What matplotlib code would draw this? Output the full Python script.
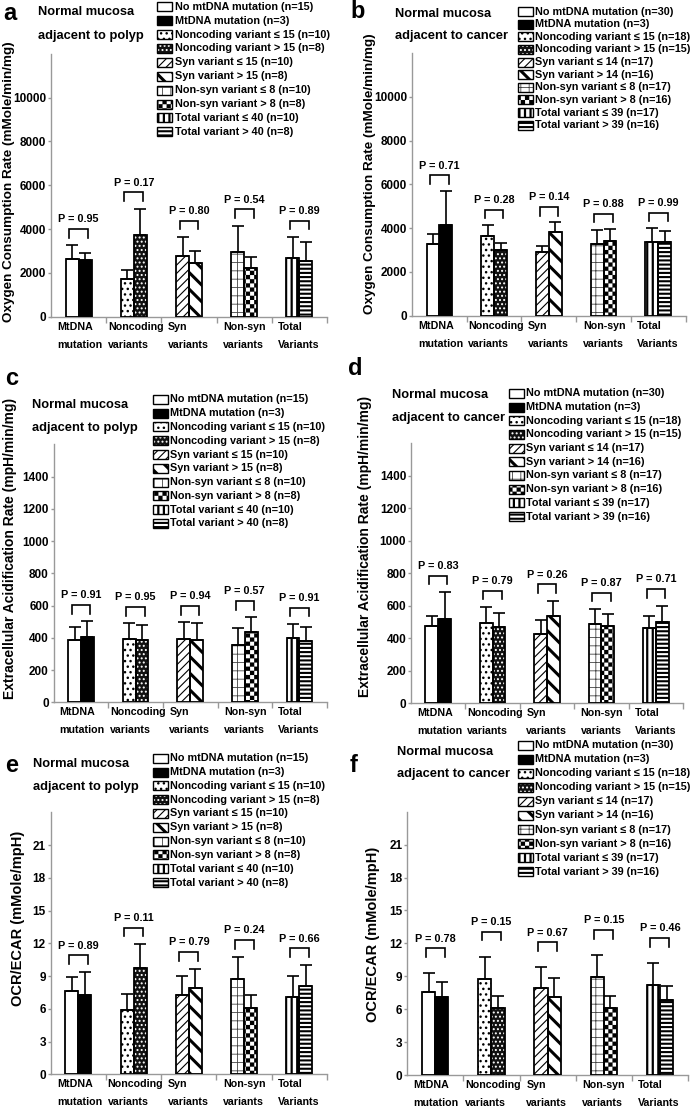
import warnings
import numpy as np
import matplotlib
matplotlib.use("Agg")
import matplotlib.pyplot as plt
from matplotlib import hatch as mhatch
from matplotlib.path import Path
from matplotlib.patches import Rectangle

warnings.filterwarnings("ignore")

plt.rcParams["font.family"] = ["Liberation Sans", "DejaVu Sans"]
plt.rcParams["font.weight"] = "bold"

# ---------------- data ----------------
group_line1 = ["MtDNA", "Noncoding", "Syn", "Non-syn", "Total"]
group_line2 = ["mutation", "variants", "variants", "variants", "Variants"]

legend_polyp = ["No mtDNA mutation (n=15)", "MtDNA mutation (n=3)",
                "Noncoding variant \u2264 15 (n=10)", "Noncoding variant > 15 (n=8)",
                "Syn variant \u2264 15 (n=10)", "Syn variant > 15 (n=8)",
                "Non-syn variant \u2264 8 (n=10)", "Non-syn variant > 8 (n=8)",
                "Total variant \u2264 40 (n=10)", "Total variant > 40 (n=8)"]
legend_cancer = ["No mtDNA mutation (n=30)", "MtDNA mutation (n=3)",
                 "Noncoding variant \u2264 15 (n=18)", "Noncoding variant > 15 (n=15)",
                 "Syn variant \u2264 14 (n=17)", "Syn variant > 14 (n=16)",
                 "Non-syn variant \u2264 8 (n=17)", "Non-syn variant > 8 (n=16)",
                 "Total variant \u2264 39 (n=17)", "Total variant > 39 (n=16)"]

ocr_label = "Oxygen Consumption Rate (mMole/min/mg)"
ecar_label = "Extracellular Acidification Rate (mpH/min/mg)"
ratio_label = "OCR/ECAR (mMole/mpH)"

# bars ordered: [no mut, mut, nc<=, nc>, syn<=, syn>, nonsyn<=, nonsyn>, total<=, total>]
ocr_polyp_mean = [2630, 2580, 1740, 3710, 2750, 2450, 2960, 2200, 2690, 2550]
ocr_polyp_sd = [630, 330, 400, 1220, 890, 540, 1190, 530, 950, 850]
ocr_polyp_p = ["0.95", "0.17", "0.80", "0.54", "0.89"]

ocr_cancer_mean = [3260, 4140, 3640, 3000, 2890, 3810, 3290, 3410, 3350, 3350]
ocr_cancer_sd = [460, 1570, 500, 340, 310, 460, 610, 550, 660, 530]
ocr_cancer_p = ["0.71", "0.28", "0.14", "0.88", "0.99"]

ecar_polyp_mean = [387, 407, 395, 386, 395, 386, 358, 434, 399, 382]
ecar_polyp_sd = [78, 95, 95, 96, 101, 104, 105, 93, 87, 87]
ecar_polyp_p = ["0.91", "0.95", "0.94", "0.57", "0.91"]

ecar_cancer_mean = [478, 521, 496, 468, 429, 537, 490, 476, 461, 502]
ecar_cancer_sd = [61, 162, 95, 90, 82, 93, 88, 74, 74, 99]
ecar_cancer_p = ["0.83", "0.79", "0.26", "0.87", "0.71"]

ratio_polyp_mean = [7.63, 7.30, 5.86, 9.74, 7.27, 7.91, 8.73, 6.11, 7.08, 8.12]
ratio_polyp_sd = [1.25, 2.10, 1.50, 2.17, 1.71, 1.77, 2.05, 1.19, 1.93, 1.92]
ratio_polyp_p = ["0.89", "0.11", "0.79", "0.24", "0.66"]

ratio_cancer_mean = [7.58, 7.09, 8.76, 6.14, 7.97, 7.15, 8.91, 6.14, 8.24, 6.87]
ratio_cancer_sd = [1.69, 1.36, 2.04, 1.10, 1.85, 1.70, 2.04, 1.10, 1.97, 1.22]
ratio_cancer_p = ["0.78", "0.15", "0.67", "0.15", "0.46"]


# ---------------- checkerboard hatch ('c') ----------------
class CheckerHatch(mhatch.HatchPatternBase):
    def __init__(self, hatch, density):
        self.num_cells = hatch.count("c") * density
        self.num_vertices = 5 * (self.num_cells * self.num_cells // 2) if self.num_cells else 0

    def set_vertices_and_codes(self, vertices, codes):
        step = 1.0 / self.num_cells
        k = 0
        for i in range(self.num_cells):
            for j in range(self.num_cells):
                if (i + j) % 2:
                    continue
                x0, y0 = i * step, j * step
                vertices[k:k + 5] = [(x0, y0), (x0 + step, y0), (x0 + step, y0 + step),
                                     (x0, y0 + step), (x0, y0)]
                codes[k:k + 5] = [Path.MOVETO, Path.LINETO, Path.LINETO,
                                  Path.LINETO, Path.CLOSEPOLY]
                k += 5


mhatch._hatch_types.append(CheckerHatch)

# fill, hatch, hatch colour, hatch linewidth
styles = [
    ("white", None, "black", 1.0),
    ("black", None, "black", 1.0),
    ("white", "...", "black", 1.0),
    ("#111111", "....", "white", 0.9),
    ("white", "////", "black", 0.8),
    ("white", "\\\\", "black", 2.2),
    ("white", "++", "#444444", 0.6),
    ("white", "cccc", "black", 0.1),
    ("white", "|||", "black", 1.6),
    ("white", "----", "black", 1.5),
]

W, H = 690, 1108
BW = 0.235
label_shift = [-0.39, -0.47, -0.38, -0.38, -0.39]
fig = plt.figure(figsize=(W / 100, H / 100), dpi=100)


def styled(p, k):
    fc, hatch, hc, hlw = styles[k]
    p.set_facecolor(fc)
    p.set_edgecolor(hc)
    p.set_hatch(hatch)
    if hasattr(p, "set_hatch_linewidth"):
        p.set_hatch_linewidth(hlw)


def panel(box, ylim, yticks, means, sds, pvals, brk):
    l, t, r, b = box
    ax = fig.add_axes([l / W, 1 - b / H, (r - l) / W, (b - t) / H])
    means = np.array(means)
    sds = np.array(sds)
    pos = np.repeat(np.arange(5), 2) + np.tile([-BW / 2, BW / 2], 5)
    bars = ax.bar(pos, means, BW, linewidth=0, zorder=2)
    for k, p in enumerate(bars.patches):
        styled(p, k)
        p.set_linewidth(0)
    ax.bar(pos, means, BW, fill=False, edgecolor="black", linewidth=1.3, zorder=3)
    ax.errorbar(pos, means, yerr=[np.zeros(10), sds], fmt="none", ecolor="black",
                elinewidth=1.2, capsize=4, capthick=1.2, zorder=4)
    tops = (means + sds).reshape(5, 2).max(axis=1)
    leg = ylim * 0.033
    for g in range(5):
        y = tops[g] + brk * ylim
        ax.plot([g - 0.17, g - 0.17, g + 0.17, g + 0.17], [y - leg, y, y, y - leg],
                color="black", lw=1.2, zorder=4, solid_joinstyle="miter")
        ax.annotate("P = " + pvals[g], (g, y), xytext=(0, 4.8), textcoords="offset points",
                    ha="center", va="baseline", fontsize=7.8)
        gx = g + label_shift[g]
        ax.annotate(group_line1[g], (gx, 0), xycoords=("data", "axes fraction"),
                    xytext=(0, -9.4), textcoords="offset points", ha="left",
                    va="baseline", fontsize=7.7)
        ax.annotate(group_line2[g], (gx, 0), xycoords=("data", "axes fraction"),
                    xytext=(0, -22.3), textcoords="offset points", ha="left",
                    va="baseline", fontsize=7.7)
    ax.set_xlim(-0.5, 4.5)
    ax.set_ylim(0, ylim)
    ax.set_yticks(yticks)
    ax.set_xticks([0.5, 1.5, 2.5, 3.5, 4.5])
    ax.set_xticklabels([])
    for s in ["top", "right"]:
        ax.spines[s].set_visible(False)
    for s in ["left", "bottom"]:
        ax.spines[s].set_color("#999999")
        ax.spines[s].set_linewidth(1.0)
    ax.tick_params(axis="y", length=2.5, width=1, color="#999999", pad=1, labelsize=8.5)
    ax.tick_params(axis="x", length=4, width=1, color="#999999")
    ax.patch.set_alpha(0)
    return ax


# overlay in pixel coordinates for text and legends
lax = fig.add_axes([0, 0, 1, 1], zorder=5)
lax.set_xlim(0, W)
lax.set_ylim(H, 0)
lax.axis("off")


def decorate(letter, lpos, title_x, t1, t2, where, legpos, labels, ylab, ypos, ysize):
    lax.text(lpos[0], lpos[1], letter, fontsize=17, va="baseline", ha="left")
    lax.text(title_x, t1, "Normal mucosa", fontsize=9.3, va="baseline")
    lax.text(title_x, t2, "adjacent to " + where, fontsize=9.3, va="baseline")
    hx, y0, dy, tx = legpos
    for k, lab in enumerate(labels):
        yc = y0 + k * dy
        rect = Rectangle((hx, yc - 4.5), 15, 9, linewidth=0)
        styled(rect, k)
        rect.set_linewidth(0)
        lax.add_patch(rect)
        lax.add_patch(Rectangle((hx, yc - 4.5), 15, 9, fill=False,
                                edgecolor="black", linewidth=1.0))
        lax.text(tx, yc, lab, fontsize=7.8, va="center", ha="left")
    lax.text(ypos[0], ypos[1], ylab, rotation=90, fontsize=ysize,
             ha="center", va="center")


ocr_ticks = np.arange(0, 10001, 2000)
ecar_ticks = np.arange(0, 1401, 200)
ratio_ticks = np.arange(0, 22, 3)

panel((51, 53.7, 327, 316.7), 12000, ocr_ticks, ocr_polyp_mean, ocr_polyp_sd, ocr_polyp_p, 0.062)
panel((412, 52.9, 685.7, 315.7), 12000, ocr_ticks, ocr_cancer_mean, ocr_cancer_sd, ocr_cancer_p, 0.058)
panel((53.7, 444.3, 326.7, 702.3), 1600, ecar_ticks, ecar_polyp_mean, ecar_polyp_sd, ecar_polyp_p, 0.063)
panel((411, 443.3, 683, 703.3), 1600, ecar_ticks, ecar_cancer_mean, ecar_cancer_sd, ecar_cancer_p, 0.064)
panel((50.7, 812.3, 327, 1074.3), 24, ratio_ticks, ratio_polyp_mean, ratio_polyp_sd, ratio_polyp_p, 0.063)
panel((407.2, 811.7, 688, 1075), 24, ratio_ticks, ratio_cancer_mean, ratio_cancer_sd, ratio_cancer_p, 0.095)

decorate("a", (3, 20), 38.3, 15, 39, "polyp", (157, 6.7, 13.9, 175), legend_polyp,
         ocr_label, (9.2, 181.5), 9.7)
decorate("b", (350, 18.3), 395, 16.7, 39.3, "cancer", (518.3, 11.7, 12.6, 535), legend_cancer,
         ocr_label, (370, 174), 9.7)
decorate("c", (5, 385), 31.7, 408.3, 431, "polyp", (153.3, 399.3, 13.8, 170), legend_polyp,
         ecar_label, (10, 548), 10)
decorate("d", (348, 375), 392, 398.3, 421, "cancer", (509, 393.3, 13.7, 526), legend_cancer,
         ecar_label, (365, 546), 10)
decorate("e", (5, 772), 33.3, 766.7, 790, "polyp", (153.3, 758.3, 13.8, 170), legend_polyp,
         ratio_label, (18, 918), 10.5)
decorate("f", (350, 772), 396.7, 755, 776.7, "cancer", (518.3, 745, 14.1, 535), legend_cancer,
         ratio_label, (373, 934), 10.5)

fig.savefig("out.png", dpi=100)
